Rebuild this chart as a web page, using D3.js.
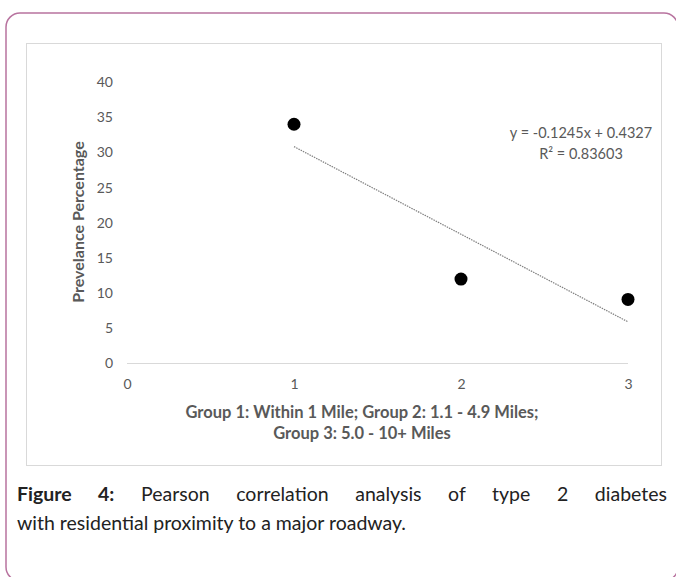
<!DOCTYPE html>
<html lang="en">
<head>
    <meta charset="UTF-8">
    <script src="https://cdn.jsdelivr.net/npm/d3@7"></script>
    <title>Figure 4</title>
    <style>
        body {
            margin: 0;
            background: white;
        }

        /* caption under the chart box, first line justified */
        .caption {
            position: absolute;
            left: 17px;
            top: 479px;
            width: 650px;
            margin: 0;
            font-family: 'Lato', sans-serif;
            font-size: 19.5px;
            line-height: 29px;
            color: #222;
        }

        .caption .l1 {
            display: block;
            text-align: justify;
            text-align-last: justify;
        }

        .tick text {
            font-family: 'Lato', sans-serif;
            font-size: 14px;
            fill: #595959;
        }
    </style>
</head>
<body>
    <div id="chart"></div>
    <p class="caption"><span class="l1"><b>Figure 4:</b> Pearson correlation analysis of type 2 diabetes</span>with residential proximity to a major roadway.</p>

    <script>
        // data
        const groups = [1, 2, 3];
        const prevalence = [34, 12, 9.1];
        const yTicks = [0, 5, 10, 15, 20, 25, 30, 35, 40];
        const xTicks = [0, 1, 2, 3];
        // Excel linear trendline (coefficients are fractions, axis is percent)
        const trendSlope = -0.1245;
        const trendIntercept = 0.4327;
        const trendLabel = ["y = -0.1245x + 0.4327", "R\u00b2 = 0.83603"];
        const xTitle = ["Group 1: Within 1 Mile; Group 2: 1.1 - 4.9 Miles;", "Group 3: 5.0 - 10+ Miles"];
        const yTitle = "Prevelance Percentage";

        const width = 676;
        const height = 577;

        const svg = d3.select("#chart").append("svg")
            .attr("width", width)
            .attr("height", height)
            .style("display", "block");

        // outer rounded frame (runs off the right and bottom)
        svg.append("rect")
            .attr("x", 6)
            .attr("y", 13)
            .attr("width", 672)
            .attr("height", 568)
            .attr("rx", 14)
            .attr("fill", "none")
            .attr("stroke", "#b8739f")
            .attr("stroke-width", 1.5);

        // chart box
        svg.append("rect")
            .attr("x", 26.5)
            .attr("y", 43.5)
            .attr("width", 635)
            .attr("height", 422)
            .attr("fill", "white")
            .attr("stroke", "#d9d9d9")
            .attr("stroke-width", 1);

        const x = d3.scaleLinear().domain([0, 3]).range([127, 628]);
        const y = d3.scaleLinear().domain([0, 40]).range([363.5, 82]);

        // y axis labels only
        const yAxis = svg.append("g")
            .attr("transform", "translate(113,0)")
            .call(d3.axisLeft(y).tickValues(yTicks).tickSize(0).tickPadding(0).tickFormat(d3.format("d")));
        yAxis.select(".domain").remove();

        // x axis: light baseline at 0, labels below
        svg.append("line")
            .attr("x1", x(0))
            .attr("x2", x(3))
            .attr("y1", y(0))
            .attr("y2", y(0))
            .attr("stroke", "#d9d9d9")
            .attr("stroke-width", 1);

        const xAxis = svg.append("g")
            .attr("transform", "translate(0,379)")
            .call(d3.axisBottom(x).tickValues(xTicks).tickSize(0).tickPadding(0).tickFormat(d3.format("d")));
        xAxis.select(".domain").remove();

        // axis titles (Excel centres this one a bit left of the plot middle)
        svg.append("g")
            .selectAll("text")
            .data(xTitle)
            .enter()
            .append("text")
            .attr("x", 362)
            .attr("y", (d, i) => 418 + i * 21)
            .attr("text-anchor", "middle")
            .attr("font-family", "Lato, sans-serif")
            .attr("font-size", 16.5)
            .attr("font-weight", "bold")
            .attr("fill", "#595959")
            .text(d => d);

        svg.append("text")
            .attr("transform", "translate(84,222) rotate(-90)")
            .attr("text-anchor", "middle")
            .attr("font-family", "Lato, sans-serif")
            .attr("font-size", 16)
            .attr("font-weight", "bold")
            .attr("fill", "#595959")
            .text(yTitle);

        // dotted trendline from x=1 to x=3
        const trendX = d3.extent(groups);
        svg.append("line")
            .attr("x1", x(trendX[0]))
            .attr("y1", y((trendSlope * trendX[0] + trendIntercept) * 100))
            .attr("x2", x(trendX[1]))
            .attr("y2", y((trendSlope * trendX[1] + trendIntercept) * 100))
            .attr("stroke", "#7f7f7f")
            .attr("stroke-width", 1.2)
            .attr("stroke-dasharray", "1.5,1");

        svg.selectAll("text.eq")
            .data(trendLabel)
            .enter()
            .append("text")
            .attr("class", "eq")
            .attr("x", 581)
            .attr("y", (d, i) => 138 + i * 21)
            .attr("text-anchor", "middle")
            .attr("font-family", "Lato, sans-serif")
            .attr("font-size", 14.5)
            .attr("fill", "#595959")
            .text(d => d);

        // data points
        svg.selectAll("circle")
            .data(groups)
            .enter()
            .append("circle")
            .attr("cx", d => x(d))
            .attr("cy", (d, i) => y(prevalence[i]))
            .attr("r", 6.5)
            .attr("fill", "black");
    </script>
</body>
</html>
